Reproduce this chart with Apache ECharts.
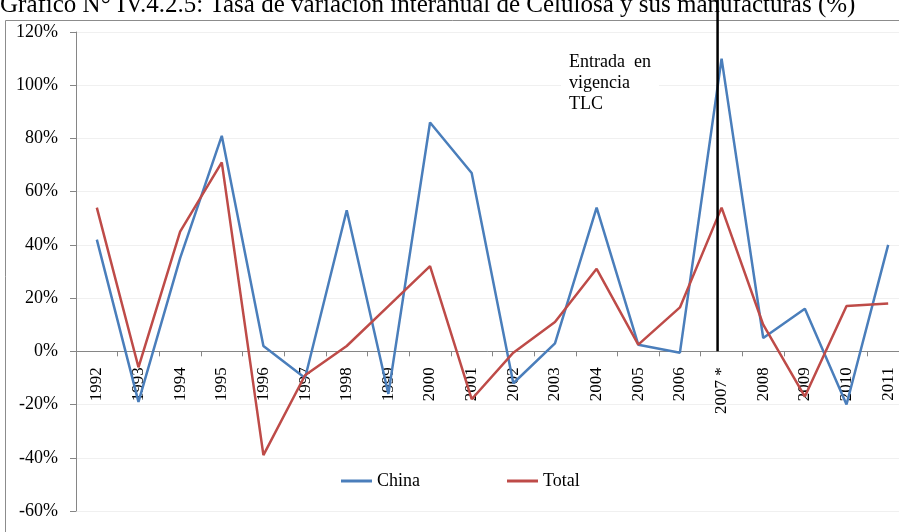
<!DOCTYPE html>
<html>
<head>
<meta charset="utf-8">
<script src="https://cdn.jsdelivr.net/npm/echarts@6/dist/echarts.min.js"></script>
<style>
  html, body { margin: 0; padding: 0; background: #fff; }
  #chart { width: 899px; height: 532px; }
</style>
</head>
<body>
<div id="chart"></div>
<script>
// datos
const years = ['1992', '1993', '1994', '1995', '1996', '1997', '1998', '1999', '2000', '2001',
  '2002', '2003', '2004', '2005', '2006', '2007 *', '2008', '2009', '2010', '2011'];
const china = [42, -19, 35, 81, 2, -10, 53, -16, 86, 67, -12, 3, 54, 2.5, -0.5, 110, 5, 16, -20, 40];
const total = [54, -6, 45, 71, -39, -9, 2, 17, 32, -18, -0.5, 11, 31, 2.5, 16.5, 54, 10, -17, 17, 18];
const titleText = 'Gráfico N° IV.4.2.5: Tasa de variación interanual de Celulosa y sus manufacturas (%)';
const noteText = 'Entrada  en\nvigencia\nTLC';
const tlcYear = '2007 *';

const serif = '"Liberation Serif", "DejaVu Serif", serif';
const chart = echarts.init(document.getElementById('chart'));

const option = {
  animation: false,
  backgroundColor: '#fff',
  textStyle: { fontFamily: serif, color: '#000' },
  grid: { left: 76, right: -10, top: 32, bottom: 21, containLabel: false, outerBoundsMode: 'none' },
  legend: {
    data: ['China', 'Total'],
    left: 336,
    top: 467,
    itemWidth: 31,
    itemHeight: 3,
    itemGap: 87,
    icon: 'rect',
    textStyle: { fontFamily: serif, fontSize: 18, color: '#000' }
  },
  xAxis: {
    type: 'category',
    data: years,
    boundaryGap: true,
    axisLine: { onZero: false, lineStyle: { color: '#868686', width: 1 } },
    axisTick: { show: true, length: 5, inside: false, lineStyle: { color: '#868686' } },
    axisLabel: { rotate: 90, margin: 16, interval: 0, fontFamily: serif, fontSize: 17, color: '#000' },
    splitLine: { show: false }
  },
  yAxis: {
    type: 'value',
    min: -60,
    max: 120,
    interval: 20,
    axisLine: { show: true, lineStyle: { color: '#868686' } },
    axisTick: { show: true, length: 6, lineStyle: { color: '#868686' } },
    axisLabel: { formatter: '{value}%', margin: 18, fontFamily: serif, fontSize: 18, color: '#000' },
    splitLine: { show: true, lineStyle: { color: '#f0f0f0', width: 1 } }
  },
  series: [
    {
      name: 'China',
      type: 'line',
      data: china,
      symbol: 'none',
      lineStyle: { color: '#4a7ebb', width: 2.5 },
      itemStyle: { color: '#4a7ebb' }
    },
    {
      name: 'Total',
      type: 'line',
      data: total,
      symbol: 'none',
      lineStyle: { color: '#be4b48', width: 2.5 },
      itemStyle: { color: '#be4b48' }
    }
  ]
};

chart.setOption(option);

// el eje de categorías va sobre el 0% (etiquetas incluidas)
const zeroY = chart.convertToPixel({ yAxisIndex: 0 }, 0);
const bottomY = chart.convertToPixel({ yAxisIndex: 0 }, -60);
chart.setOption({ xAxis: { offset: -(bottomY - zeroY) } });

// línea de entrada en vigencia y textos
const lineX = chart.convertToPixel({ xAxisIndex: 0 }, tlcYear) - 4;

chart.setOption({
  graphic: [
    {
      type: 'rect',
      silent: true,
      z: 0,
      shape: { x: 5.5, y: 20.5, width: 1000, height: 1000 },
      style: { fill: 'none', stroke: '#8c8c8c', lineWidth: 1 }
    },
    {
      type: 'text',
      silent: true,
      x: 0,
      y: 5,
      style: {
        text: titleText,
        font: '25px ' + serif,
        fill: '#000',
        textVerticalAlign: 'middle'
      }
    },
    {
      type: 'text',
      silent: true,
      z: 10,
      x: 561,
      y: 50,
      style: {
        text: noteText,
        font: '18px ' + serif,
        fill: '#000',
        lineHeight: 21,
        backgroundColor: '#fff',
        padding: [2, 8, 2, 8]
      }
    },
    {
      type: 'line',
      silent: true,
      z: 20,
      shape: { x1: lineX, y1: 0, x2: lineX, y2: zeroY },
      style: { stroke: '#000', lineWidth: 2.5 }
    }
  ]
});
</script>
</body>
</html>
